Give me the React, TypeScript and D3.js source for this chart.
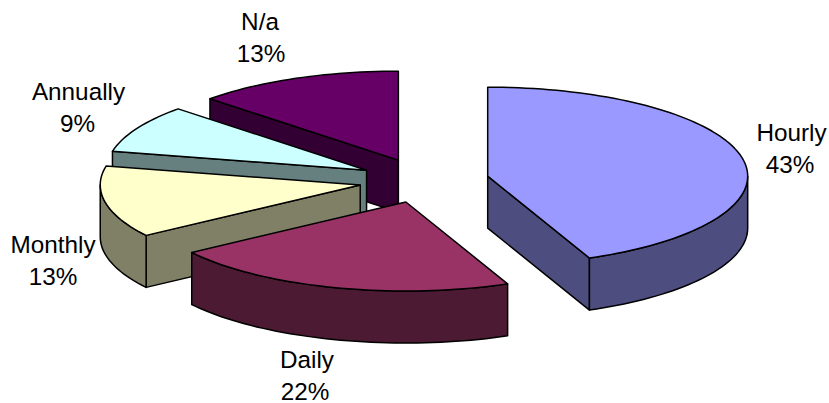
import React from 'react';
import * as d3 from 'd3';

const categories = ['Hourly', 'Daily', 'Monthly', 'Annually', 'N/a'];
const values = [43.6, 21.8, 13.0, 8.7, 12.9];
const percentLabels = ['43%', '22%', '13%', '9%', '13%'];
const topColors = ['#9999FF', '#993366', '#FFFFCC', '#CCFFFF', '#660066'];
const sideColors = ['#4D4D80', '#4D1A33', '#808066', '#668080', '#330033'];

const width = 829;
const height = 403;
const cx = 424;
const cy = 180.6;
const rx = 260;
const ry = 89;
const depth = 52;
const explode = 65;

// where the two text lines of each label are centred, baseline of the first line
const labelPos = [
  { x: 791.5, y: 141, x2: 790 },
  { x: 307, y: 368, x2: 305 },
  { x: 53, y: 253, x2: 53 },
  { x: 78.5, y: 100, x2: 77.5 },
  { x: 260, y: 30, x2: 261 },
];

const line = d3.line<[number, number]>();
const arcPoints = (ax: number, ay: number, a0: number, a1: number): [number, number][] => {
  const n = Math.max(2, Math.ceil((a1 - a0) / 0.03));
  return d3.range(n + 1).map(i => {
    const a = a0 + ((a1 - a0) * i) / n;
    return [ax + rx * Math.sin(a), ay - ry * Math.cos(a)] as [number, number];
  });
};

const App: React.FC = () => {
  const arcs = d3.pie<number>().sort(null)(values);

  const slices = arcs.map((arc, i) => {
    const mid = (arc.startAngle + arc.endAngle) / 2;
    const ax = cx + explode * Math.sin(mid);
    const ay = cy - explode * (ry / rx) * Math.cos(mid);
    return { i, a0: arc.startAngle, a1: arc.endAngle, mid, ax, ay };
  });

  // back to front
  const ordered = d3.sort(slices, s => -Math.cos(s.mid));

  return (
    <svg
      width={width}
      height={height}
      style={{ position: 'absolute', left: 0, top: 0, background: '#fff' }}
    >
      {ordered.map(s => {
        const apex: [number, number] = [s.ax, s.ay];
        const walls: [number, number][][] = [];
        // radial walls, only the ones that face the viewer
        [
          { a: s.a0, show: Math.sin(s.a0) < -0.001 },
          { a: s.a1, show: Math.sin(s.a1) > 0.001 },
        ].forEach(({ a, show }) => {
          if (!show) return;
          const p = arcPoints(s.ax, s.ay, a, a)[0];
          walls.push([
            apex,
            p,
            [p[0], p[1] + depth],
            [apex[0], apex[1] + depth],
          ]);
        });
        // outer wall
        const lo = Math.max(s.a0, Math.PI / 2);
        const hi = Math.min(s.a1, (3 * Math.PI) / 2);
        if (hi > lo) {
          const upper = arcPoints(s.ax, s.ay, lo, hi);
          const lower = arcPoints(s.ax, s.ay + depth, lo, hi).reverse();
          walls.push([...upper, ...lower]);
        }
        const top: [number, number][] = [apex, ...arcPoints(s.ax, s.ay, s.a0, s.a1)];
        return (
          <g key={categories[s.i]} stroke="#000" strokeWidth={1.5} strokeLinejoin="round">
            {walls.map((w, k) => (
              <path key={k} d={line(w) + 'Z'} fill={sideColors[s.i]} />
            ))}
            <path d={line(top) + 'Z'} fill={topColors[s.i]} />
          </g>
        );
      })}
      <g fontFamily="'Liberation Sans', Arial, sans-serif" fontSize={24.3} fill="#000" textAnchor="middle">
        {categories.map((c, i) => (
          <g key={c}>
            <text x={labelPos[i].x} y={labelPos[i].y}>{c}</text>
            <text x={labelPos[i].x2} y={labelPos[i].y + 32}>{percentLabels[i]}</text>
          </g>
        ))}
      </g>
    </svg>
  );
};

export default App;
